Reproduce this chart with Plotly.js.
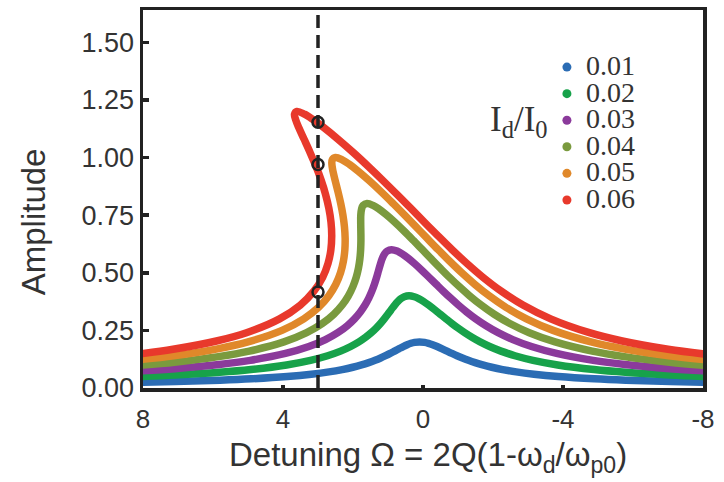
<!DOCTYPE html>
<html>
<head>
<meta charset="utf-8">
<script src="https://cdn.plot.ly/plotly-3.0.1.min.js"></script>
<style>html,body{margin:0;padding:0;background:#fff;}#chart{width:724px;height:482px;}</style>
</head>
<body>
<div id="chart"></div>
<script>
// Legend labels (I_d / I_0) and colours
const labels = ["0.01", "0.02", "0.03", "0.04", "0.05", "0.06"];
const colors = ["#2b6cb4", "#17a24a", "#8b3a9b", "#7a9a3e", "#e0882a", "#e8392c"];

// Detuning (x) and amplitude (y)
const x001 = [8.274,7.074,5.800,4.903,3.879,3.189,2.688,2.307,2.005,1.757,1.549,1.369,1.211,1.069,0.938,0.814,0.692,0.565,0.451,0.345,0.241,0.1,
  -0.045,-0.157,-0.275,-0.403,-0.548,-0.686,-0.826,-0.971,-1.127,-1.297,-1.489,-1.707,-1.965,-2.275,-2.664,-3.171,-3.867,-4.895,-5.794,-7.07,-8.272];
const y001 = [0.024,0.028,0.034,0.04,0.05,0.06,0.07,0.08,0.09,0.1,0.11,0.12,0.13,0.14,0.15,0.16,0.17,0.18,0.188,0.194,0.198,0.2,
  0.198,0.194,0.188,0.18,0.17,0.16,0.15,0.14,0.13,0.12,0.11,0.1,0.09,0.08,0.07,0.06,0.05,0.04,0.034,0.028,0.024];

const x002 = [8.279,7.080,5.809,4.915,3.898,3.216,2.725,2.355,2.066,1.832,1.640,1.477,1.338,1.216,1.107,1.006,0.909,0.808,0.716,0.627,0.535,0.4,
  0.25,0.125,-0.01,-0.16,-0.331,-0.494,-0.657,-0.824,-1.0,-1.189,-1.398,-1.632,-1.904,-2.227,-2.627,-3.144,-3.848,-4.883,-5.785,-7.064,-8.267];
const y002 = [0.048,0.056,0.068,0.08,0.1,0.12,0.14,0.16,0.18,0.2,0.22,0.24,0.26,0.28,0.3,0.32,0.34,0.36,0.376,0.388,0.396,0.4,
  0.396,0.388,0.376,0.36,0.34,0.32,0.3,0.28,0.26,0.24,0.22,0.2,0.18,0.16,0.14,0.12,0.1,0.08,0.068,0.056,0.048];

const x003 = [8.286,7.090,5.823,4.935,3.929,3.261,2.786,2.435,2.167,1.957,1.791,1.657,1.549,1.461,1.388,1.326,1.270,1.213,1.158,1.098,1.025,0.9,
  0.740,0.596,0.432,0.245,0.030,-0.174,-0.376,-0.579,-0.789,-1.009,-1.247,-1.507,-1.803,-2.147,-2.566,-3.099,-3.817,-4.863,-5.771,-7.054,-8.26];
const y003 = [0.072,0.084,0.102,0.12,0.15,0.18,0.21,0.24,0.27,0.30,0.33,0.36,0.39,0.42,0.45,0.48,0.51,0.54,0.564,0.582,0.594,0.6,
  0.594,0.582,0.564,0.54,0.51,0.48,0.45,0.42,0.39,0.36,0.33,0.30,0.27,0.24,0.21,0.18,0.15,0.12,0.102,0.084,0.072];

const x004 = [8.296,7.103,5.843,4.963,3.973,3.324,2.872,2.547,2.309,2.132,2.003,1.909,1.845,1.804,1.782,1.774,1.776,1.780,1.777,1.756,1.711,1.6,
  1.426,1.254,1.051,0.812,0.536,0.274,0.018,-0.236,-0.493,-0.757,-1.035,-1.332,-1.661,-2.035,-2.48,-3.036,-3.773,-4.835,-5.751,-7.041,-8.25];
const y004 = [0.096,0.112,0.136,0.16,0.2,0.24,0.28,0.32,0.36,0.4,0.44,0.48,0.52,0.56,0.6,0.64,0.68,0.72,0.752,0.776,0.792,0.8,
  0.792,0.776,0.752,0.72,0.68,0.64,0.6,0.56,0.52,0.48,0.44,0.4,0.36,0.32,0.28,0.24,0.2,0.16,0.136,0.112,0.096];

const x005 = [8.309,7.121,5.869,4.999,4.029,3.405,2.982,2.691,2.491,2.357,2.275,2.233,2.225,2.245,2.288,2.35,2.426,2.509,2.572,2.603,2.593,2.5,
  2.308,2.101,1.846,1.541,1.186,0.85,0.524,0.205,-0.113,-0.433,-0.763,-1.107,-1.479,-1.891,-2.370,-2.955,-3.717,-4.799,-5.725,-7.023,-8.237];
const y005 = [0.12,0.14,0.17,0.2,0.25,0.3,0.35,0.4,0.45,0.5,0.55,0.6,0.65,0.7,0.75,0.8,0.85,0.9,0.94,0.97,0.99,1.0,
  0.99,0.97,0.94,0.9,0.85,0.8,0.75,0.7,0.65,0.6,0.55,0.5,0.45,0.4,0.35,0.3,0.25,0.2,0.17,0.14,0.12];

const x006 = [8.325,7.143,5.901,5.043,4.098,3.504,3.117,2.867,2.714,2.632,2.608,2.629,2.690,2.784,2.907,3.054,3.221,3.400,3.544,3.638,3.671,3.6,
  3.386,3.136,2.818,2.432,1.981,1.554,1.143,0.744,0.352,-0.037,-0.430,-0.832,-1.256,-1.715,-2.235,-2.856,-3.648,-4.755,-5.693,-7.001,-8.221];
const y006 = [0.144,0.168,0.204,0.24,0.30,0.36,0.42,0.48,0.54,0.60,0.66,0.72,0.78,0.84,0.90,0.96,1.02,1.08,1.128,1.164,1.188,1.2,
  1.188,1.164,1.128,1.08,1.02,0.96,0.90,0.84,0.78,0.72,0.66,0.60,0.54,0.48,0.42,0.36,0.30,0.24,0.204,0.168,0.144];

// Fixed detuning marker and the three intersection points
const dashX = 3.0;
const markX = [3.0, 3.0, 3.0];
const markY = [1.153, 0.97, 0.416];

const xTicks = [8, 4, 0, -4, -8];
const yTicks = [0, 0.25, 0.5, 0.75, 1.0, 1.25, 1.5];
const yTickText = ["0.00", "0.25", "0.50", "0.75", "1.00", "1.25", "1.50"];

const xTitle = "Detuning Ω = 2Q(1-ω<sub>d</sub>/ω<sub>p0</sub>)";
const yTitle = "Amplitude";
const legendTitle = "I<sub>d</sub>/I<sub>0</sub>";

const xs = [x001, x002, x003, x004, x005, x006];
const ys = [y001, y002, y003, y004, y005, y006];

const traces = [];
for (let i = 0; i < xs.length; i++) {
  traces.push({
    x: xs[i], y: ys[i], type: "scatter", mode: "lines", name: labels[i],
    line: {color: colors[i], width: 7.5, shape: "spline", smoothing: 1},
    showlegend: false, hoverinfo: "skip"
  });
}
traces.push({
  x: markX, y: markY, type: "scatter", mode: "markers",
  marker: {symbol: "circle-open", size: 11, color: "#222", line: {width: 2.5, color: "#222"}},
  showlegend: false, hoverinfo: "skip"
});

const serif = "Liberation Serif, Times New Roman, serif";
const sans = "Liberation Sans, Arial, sans-serif";
const legendTop = 0.849, legendStep = 0.0703;
const annotations = [];
const shapes = [{
  type: "line", xref: "x", yref: "paper", x0: dashX, x1: dashX, y0: 0, y1: 1,
  line: {color: "#222", width: 3.5, dash: "13px,7px"}, layer: "above"
}];
for (let i = 0; i < labels.length; i++) {
  const yy = legendTop - i * legendStep;
  annotations.push({
    xref: "paper", yref: "paper", x: 0.789, y: yy + 0.004, xanchor: "left", yanchor: "middle",
    text: labels[i], showarrow: false, font: {family: serif, size: 28, color: "#333"}, borderpad: 0
  });
  shapes.push({
    type: "circle", xref: "paper", yref: "paper", xsizemode: "pixel", ysizemode: "pixel",
    xanchor: 0.757, yanchor: yy, x0: -4.5, x1: 4.5, y0: -4.5, y1: 4.5,
    fillcolor: colors[i], line: {width: 0}
  });
}
annotations.push({
  xref: "paper", yref: "paper", x: 0.726, y: 0.705, xanchor: "right", yanchor: "middle",
  text: legendTitle, showarrow: false,
  font: {family: serif, size: 35, color: "#333"}
});
// Axis titles
annotations.push({
  xref: "paper", yref: "paper", x: 0.509, y: -0.122, xanchor: "center", yanchor: "top",
  text: xTitle, showarrow: false, font: {family: sans, size: 33, color: "#333"}
});
annotations.push({
  xref: "paper", yref: "paper", x: -0.196, y: 0.439, xanchor: "center", yanchor: "middle",
  text: yTitle, textangle: -90, showarrow: false, font: {family: sans, size: 33, color: "#333"}
});

const layout = {
  width: 724, height: 482,
  margin: {l: 143, r: 21, t: 10, b: 94},
  paper_bgcolor: "#fff", plot_bgcolor: "#fff",
  font: {family: sans, color: "#333"},
  showlegend: false,
  xaxis: {
    range: [8, -8], tickvals: xTicks, ticktext: xTicks.map(String),
    ticks: "inside", ticklen: 3, tickwidth: 4, tickcolor: "#222",
    showline: true, linewidth: 3.5, linecolor: "#222", mirror: true,
    showgrid: false, zeroline: false, ticklabelstandoff: 5,
    tickfont: {size: 26, color: "#333"}
  },
  yaxis: {
    range: [0, 1.64], tickvals: yTicks, ticktext: yTickText,
    ticks: "inside", ticklen: 6, tickwidth: 3.5, tickcolor: "#222",
    showline: true, linewidth: 3.5, linecolor: "#222", mirror: true,
    showgrid: false, zeroline: false,
    tickfont: {size: 27, color: "#333"}
  },
  annotations: annotations,
  shapes: shapes
};

Plotly.newPlot("chart", traces, layout, {displayModeBar: false, staticPlot: true});
</script>
</body>
</html>
